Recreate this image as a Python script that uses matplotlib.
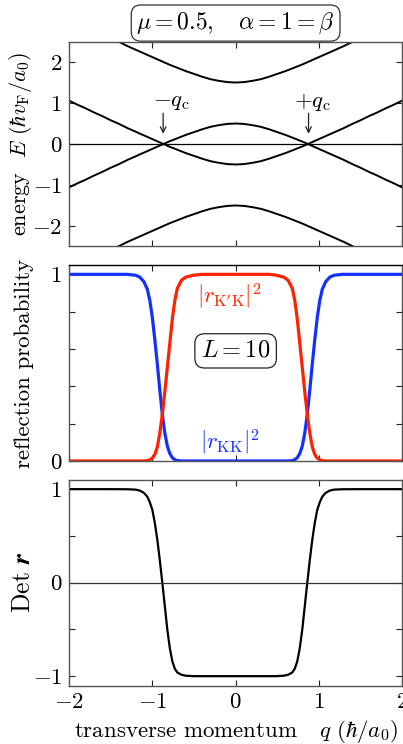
import numpy as np
import matplotlib
matplotlib.use("Agg")
import matplotlib.pyplot as plt

plt.rcParams['mathtext.fontset'] = 'cm'
plt.rcParams['font.family'] = ['cmr10', 'DejaVu Serif']
plt.rcParams['axes.unicode_minus'] = False

# ---------------- data ----------------
q_band = [-2.0, -1.9, -1.8, -1.7, -1.6, -1.5, -1.4, -1.3, -1.2, -1.1, -1.0,
          -0.9, -0.8, -0.7, -0.6, -0.5, -0.4, -0.3, -0.2, -0.1, 0.0,
          0.1, 0.2, 0.3, 0.4, 0.5, 0.6, 0.7, 0.8, 0.9, 1.0,
          1.1, 1.2, 1.3, 1.4, 1.5, 1.6, 1.7, 1.8, 1.9, 2.0]
E_band1 = [3.06, 2.96, 2.87, 2.77, 2.68, 2.58, 2.49, 2.39, 2.30, 2.21, 2.12,
           2.03, 1.94, 1.86, 1.78, 1.71, 1.64, 1.58, 1.54, 1.51, 1.50,
           1.51, 1.54, 1.58, 1.64, 1.71, 1.78, 1.86, 1.94, 2.03, 2.12,
           2.21, 2.30, 2.39, 2.49, 2.58, 2.68, 2.77, 2.87, 2.96, 3.06]
E_band2 = [-1.06, -0.96, -0.87, -0.77, -0.68, -0.58, -0.49, -0.39, -0.30, -0.21, -0.12,
           -0.03, 0.06, 0.14, 0.22, 0.29, 0.36, 0.42, 0.46, 0.49, 0.50,
           0.49, 0.46, 0.42, 0.36, 0.29, 0.22, 0.14, 0.06, -0.03, -0.12,
           -0.21, -0.30, -0.39, -0.49, -0.58, -0.68, -0.77, -0.87, -0.96, -1.06]
E_band3 = [1.06, 0.96, 0.87, 0.77, 0.68, 0.58, 0.49, 0.39, 0.30, 0.21, 0.12,
           0.03, -0.06, -0.14, -0.22, -0.29, -0.36, -0.42, -0.46, -0.49, -0.50,
           -0.49, -0.46, -0.42, -0.36, -0.29, -0.22, -0.14, -0.06, 0.03, 0.12,
           0.21, 0.30, 0.39, 0.49, 0.58, 0.68, 0.77, 0.87, 0.96, 1.06]
E_band4 = [-3.06, -2.96, -2.87, -2.77, -2.68, -2.58, -2.49, -2.39, -2.30, -2.21, -2.12,
           -2.03, -1.94, -1.86, -1.78, -1.71, -1.64, -1.58, -1.54, -1.51, -1.50,
           -1.51, -1.54, -1.58, -1.64, -1.71, -1.78, -1.86, -1.94, -2.03, -2.12,
           -2.21, -2.30, -2.39, -2.49, -2.58, -2.68, -2.77, -2.87, -2.96, -3.06]
q_c_left, q_c_right = -0.87, 0.875

q_prob = [-2.0, -1.5, -1.3, -1.2, -1.15, -1.1, -1.06, -1.03, -1.0, -0.97, -0.94,
          -0.91, -0.88, -0.85, -0.82, -0.79, -0.76, -0.73, -0.70, -0.65, -0.60,
          -0.50, -0.40, 0.0, 0.40, 0.48, 0.58, 0.63, 0.68, 0.71, 0.74, 0.77,
          0.80, 0.83, 0.86, 0.89, 0.92, 0.95, 0.98, 1.01, 1.04, 1.08, 1.13,
          1.18, 1.28, 1.5, 2.0]
R_KpK = [0, 0, 0, 0, 0, 0, 0.002, 0.006, 0.015, 0.035, 0.075,
         0.15, 0.25, 0.37, 0.50, 0.63, 0.76, 0.86, 0.925, 0.968, 0.985,
         0.996, 1.0, 1.0, 1.0, 0.996, 0.985, 0.968, 0.925, 0.86, 0.76, 0.63,
         0.50, 0.37, 0.25, 0.15, 0.075, 0.035, 0.015, 0.006, 0.002, 0, 0,
         0, 0, 0, 0]
R_KK = [1.0, 1.0, 1.0, 0.995, 0.985, 0.96, 0.92, 0.86, 0.77, 0.65, 0.52,
        0.38, 0.25, 0.15, 0.08, 0.04, 0.018, 0.007, 0.002, 0, 0,
        0, 0, 0, 0, 0, 0, 0, 0.002, 0.007, 0.018, 0.04,
        0.08, 0.15, 0.25, 0.38, 0.52, 0.65, 0.77, 0.86, 0.92, 0.96, 0.985,
        0.995, 1.0, 1.0, 1.0]
det_r = [1.0, 1.0, 0.999, 0.995, 0.985, 0.96, 0.92, 0.86, 0.78, 0.64, 0.46,
         0.24, 0.0, -0.25, -0.50, -0.70, -0.84, -0.92, -0.96, -0.985, -0.995,
         -1.0, -1.0, -1.0, -1.0, -1.0, -0.995, -0.985, -0.96, -0.92, -0.84, -0.70,
         -0.50, -0.25, 0.0, 0.24, 0.46, 0.64, 0.78, 0.86, 0.92, 0.96, 0.985,
         0.995, 0.999, 1.0, 1.0]

RED = '#ff2200'
BLUE = '#1430ff'
SPINE = '#555555'

fig = plt.figure(figsize=(4.03, 7.44), dpi=100)
L, W = 0.1712, 0.827
ax1 = fig.add_axes([L, 0.6687, W, 0.2755])
ax2 = fig.add_axes([L, 0.3804, W, 0.2634])
ax3 = fig.add_axes([L, 0.0786, W, 0.2765])

FS = 16.5

def style(ax):
    for s in ax.spines.values():
        s.set_color(SPINE)
        s.set_linewidth(1.0)
    ax.tick_params(direction='in', top=True, right=True, length=4.5,
                   width=0.8, color='#222222', labelsize=FS, pad=5)
    ax.set_xlim(-2, 2)
    ax.set_xticks([-2, -1, 0, 1, 2])

def mlabels(vals):
    return ['$%g$' % v for v in vals]

# ---- top panel ----
style(ax1)
for E in (E_band1, E_band2, E_band3, E_band4):
    ax1.plot(q_band, E, color='black', lw=1.4)
ax1.axhline(0, color='black', lw=0.9)
ax1.set_ylim(-2.5, 2.5)
ax1.set_yticks([-2, -1, 0, 1, 2])
ax1.set_yticklabels(mlabels([-2, -1, 0, 1, 2]))
ax1.set_xticklabels([])
ax1.set_ylabel(r'energy  $E\ (\hbar v_{\rm F}/a_0)$', fontsize=FS - 0.5)
ax1.yaxis.set_label_coords(-0.106, 0.5)
for xa, lab, xt in ((q_c_left, r'$-q_{\rm c}$', q_c_left + 0.10),
                    (q_c_right, r'$+q_{\rm c}$', q_c_right + 0.05)):
    ax1.annotate('', xy=(xa, 0.25), xytext=(xa, 0.75),
                 arrowprops=dict(arrowstyle='->', color='#222222', lw=0.9,
                                 shrinkA=0, shrinkB=0))
    ax1.text(xt, 1.02, lab, ha='center', va='center', fontsize=FS)
ax1.text(0.5, 1.09, r'$\mu=0.5,\quad\alpha=1=\beta$', transform=ax1.transAxes,
         ha='center', va='center', fontsize=FS + 0.5,
         bbox=dict(boxstyle='round,pad=0.22,rounding_size=0.4', fc='white',
                   ec='#333333', lw=0.9))

# ---- middle panel ----
style(ax2)
ax2.plot(q_prob, R_KK, color=BLUE, lw=2.3, solid_capstyle='butt')
ax2.plot(q_prob, R_KpK, color=RED, lw=2.3, solid_capstyle='butt')
ax2.set_ylim(0, 1.05)
ax2.set_yticks([0, 0.2, 0.4, 0.6, 0.8, 1.0])
ax2.set_yticklabels(['$0$', '', '', '', '', '$1$'])
ax2.set_xticklabels([])
ax2.spines['top'].set_color('black')
ax2.set_ylabel('reflection probability', fontsize=FS)
ax2.yaxis.set_label_coords(-0.106, 0.5)
ax2.text(-0.08, 0.88, r'$|r_{\rm K^{\prime}K}|^2$', color=RED, ha='center',
         va='center', fontsize=FS)
ax2.text(-0.07, 0.10, r'$|r_{\rm KK}|^2$', color=BLUE, ha='center',
         va='center', fontsize=FS)
ax2.text(0.0, 0.59, r'$L=10$', ha='center', va='center', fontsize=FS + 1,
         bbox=dict(boxstyle='round,pad=0.25,rounding_size=0.4', fc='white',
                   ec='#222222', lw=0.9))

# ---- bottom panel ----
style(ax3)
ax3.plot(q_prob, det_r, color='black', lw=1.6)
ax3.axhline(0, color='#333333', lw=0.9)
ax3.set_ylim(-1.1, 1.1)
ax3.set_yticks([-1, -0.5, 0, 0.5, 1])
ax3.set_yticklabels(['$-1$', '', '$0$', '', '$1$'])
ax3.set_xticklabels(['$-2$', '$-1$', '$0$', '$1$', '$2$'])
ax3.set_ylabel(r'Det $\boldsymbol{r}$', fontsize=FS + 2)
ax3.yaxis.set_label_coords(-0.102, 0.5)
ax3.set_xlabel(r'transverse momentum   $q\ (\hbar/a_0)$', fontsize=FS)

fig.savefig('out.png', dpi=100)
